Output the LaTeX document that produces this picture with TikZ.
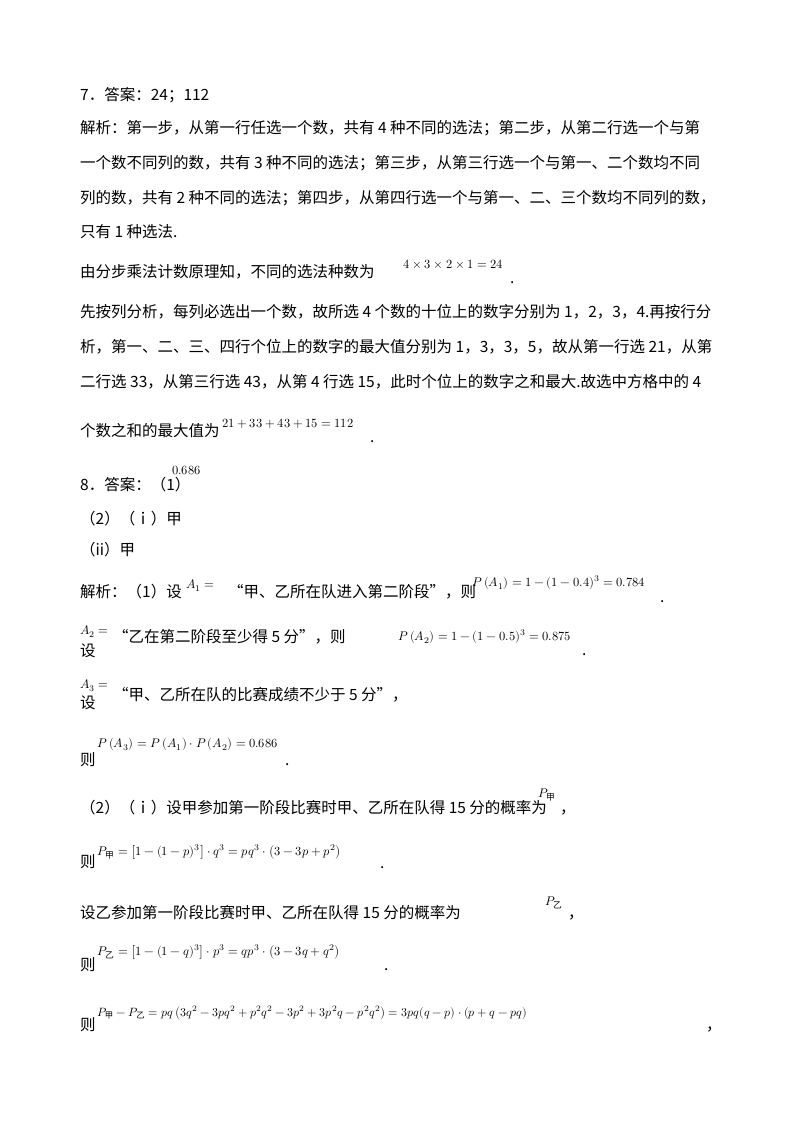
\documentclass[tikz,border=0pt]{standalone}
\usepackage{amsmath}
\usepackage{graphicx}
\usepackage{fontspec}
\usepackage{unicode-math}
\setmainfont{Liberation Serif}
\setmathfont{Latin Modern Math}
\newfontfamily\cjk{Noto Sans CJK SC}
\newcommand{\zh}[1]{\text{\cjk #1}}
\newcommand{\mm}[1]{\scalebox{1.25}{$#1$}}
\begin{document}
\begin{tikzpicture}[x=1pt,y=-1pt,
  t/.style={anchor=base west,inner sep=0pt,font=\fontsize{15.5}{18}\selectfont\cjk},
  m/.style={anchor=base west,inner sep=0pt}]
\useasboundingbox (0,0) rectangle (800,1132);
\node[t] (l1) at (80,100) {7．答案：24；112};
\node[t] (l2) at (80,133) {解析：第一步，从第一行任选一个数，共有 4 种不同的选法；第二步，从第二行选一个与第};
\node[t] (l3) at (80,168) {一个数不同列的数，共有 3 种不同的选法；第三步，从第三行选一个与第一、二个数均不同};
\node[t] (l4) at (80,203) {列的数，共有 2 种不同的选法；第四步，从第四行选一个与第一、二、三个数均不同列的数，};
\node[t] (l5) at (80,237) {只有 1 种选法.};
\node[t] (l6) at (80,277) {由分步乘法计数原理知，不同的选法种数为};
\node[m] (f6) at (403,268) {\mm{4\times3\times2\times1=24}};
\node[t] (d6) at (510,283) {.};
\node[t] (l7) at (80,317) {先按列分析，每列必选出一个数，故所选 4 个数的十位上的数字分别为 1，2，3，4.再按行分};
\node[t] (l8) at (80,352) {析，第一、二、三、四行个位上的数字的最大值分别为 1，3，3，5，故从第一行选 21，从第};
\node[t] (l9) at (80,387) {二行选 33，从第三行选 43，从第 4 行选 15，此时个位上的数字之和最大.故选中方格中的 4};
\node[t] (l10) at (80,436) {个数之和的最大值为};
\node[m] (f10) at (222,427) {\mm{21+33+43+15=112}};
\node[t] (d10) at (370,442) {.};
\node[t] (l11) at (80,490) {8．答案：（1）};
\node[m] (f11) at (172,474) {\mm{0.686}};
\node[t] (l12) at (80,524) {（2）（ｉ）甲};
\node[t] (l13) at (80,555) {（ii）甲};
\node[t] (l14) at (80,597) {解析：（1）设};
\node[m] (a1) at (186,588) {\mm{A_1=}};
\node[t] (l14b) at (228,597) {“甲、乙所在队进入第二阶段”，则};
\node[m] (f14) at (472,586) {\mm{P\left(A_1\right)=1-(1-0.4)^3=0.784}};
\node[t] (d14) at (660,602) {.};
\node[t] (l15) at (80,656) {设};
\node[m] (a2) at (80,634) {\mm{A_2=}};
\node[t] (l15b) at (113,642) {“乙在第二阶段至少得 5 分”，则};
\node[m] (f15) at (398,640) {\mm{P\left(A_2\right)=1-(1-0.5)^3=0.875}};
\node[t] (d15) at (582,655) {.};
\node[t] (l16) at (80,708) {设};
\node[m] (a3) at (80,688) {\mm{A_3=}};
\node[t] (l16b) at (113,700) {“甲、乙所在队的比赛成绩不少于 5 分”，};
\node[t] (l17) at (80,765) {则};
\node[m] (f17) at (97,747) {\mm{P\left(A_3\right)=P\left(A_1\right)\cdot P\left(A_2\right)=0.686}};
\node[t] (d17) at (285,765) {.};
\node[t] (l18) at (80,813) {（2）（ｉ）设甲参加第一阶段比赛时甲、乙所在队得 15 分的概率为};
\node[m] (p18) at (538,797) {\mm{P_{\zh{甲}}}};
\node[t] (c18) at (560,813) {，};
\node[t] (l19) at (80,867) {则};
\node[m] (f19) at (97,855) {\mm{P_{\zh{甲}}=\left[1-(1-p)^3\right]\cdot q^3=pq^3\cdot\left(3-3p+p^2\right)}};
\node[t] (d19) at (380,868) {.};
\node[t] (l20) at (80,918) {设乙参加第一阶段比赛时甲、乙所在队得 15 分的概率为};
\node[m] (p20) at (545,905) {\mm{P_{\zh{乙}}}};
\node[t] (c20) at (568,918) {，};
\node[t] (l21) at (80,970) {则};
\node[m] (f21) at (97,955) {\mm{P_{\zh{乙}}=\left[1-(1-q)^3\right]\cdot p^3=qp^3\cdot\left(3-3q+q^2\right)}};
\node[t] (d21) at (384,970) {.};
\node[t] (l22) at (80,1030) {则};
\node[m] (f22) at (97,1016) {\scalebox{1.2}{$P_{\zh{甲}}-P_{\zh{乙}}=pq\left(3q^2-3pq^2+p^2q^2-3p^2+3p^2q-p^2q^2\right)=3pq(q-p)\cdot(p+q-pq)$}};
\node[t] (c22) at (706,1030) {，};
\end{tikzpicture}
\end{document}
